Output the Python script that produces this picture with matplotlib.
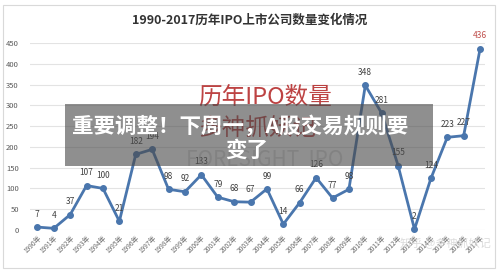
import matplotlib.pyplot as plt
from matplotlib.patches import Rectangle

plt.rcParams['font.family'] = ['Noto Sans CJK SC', 'DejaVu Sans']

# 数据
years = list(range(1990, 2018))
ipo = [7, 4, 37, 107, 100, 21, 182, 194, 98, 92, 133, 79, 68, 67, 99,
       14, 66, 126, 77, 98, 348, 281, 155, 2, 124, 223, 227, 436]
xlabels = [f"{y}年" for y in years]

W, H = 500, 271
fig = plt.figure(figsize=(5, 2.71), dpi=100)
fig.patch.set_facecolor('white')

# 外框
fig.patches.append(Rectangle((3 / W, 1 - 268 / H), 492 / W, 263 / H,
                             transform=fig.transFigure, fill=False,
                             edgecolor='#d9d9d9', linewidth=0.8))

ax = fig.add_axes([30 / W, 1 - 230 / H, 455 / W, 187 / H])
x = list(range(len(years)))
line_c = '#4a76ad'
ax.plot(x, ipo, color=line_c, linewidth=2, marker='o', markersize=4,
        clip_on=False, zorder=3)

for i, v in zip(x, ipo):
    col = '#c0504d' if i == len(x) - 1 else '#404040'
    ax.annotate(str(v), (i, v), xytext=(0, 6), textcoords='offset points',
                ha='center', va='bottom', fontsize=6, color=col)

ax.set_xlim(-0.45, 27.3)
ax.set_ylim(0, 450)
ax.set_yticks(range(0, 451, 50))
ax.tick_params(axis='y', length=0, labelsize=5.5, labelcolor='#595959', pad=8)
ax.set_xticks(x)
ax.set_xticklabels(xlabels, rotation=45, ha='right', rotation_mode='anchor',
                   fontsize=4.8, color='#6a6a6a')
ax.tick_params(axis='x', length=0, pad=3)
ax.grid(axis='y', color='#e3e3e3', linewidth=0.8)
ax.set_axisbelow(True)
for s in ax.spines.values():
    s.set_visible(False)

fig.text(250 / W, 1 - 20 / H, '1990-2017历年IPO上市公司数量变化情况',
         ha='center', va='center', fontsize=9, fontweight='bold', color='#333333')

# 水印
fig.text(198 / W, 1 - 97 / H, '历年IPO数量', ha='left', va='center',
         fontsize=17, color='#b22222', alpha=0.85, zorder=5)
fig.text(198 / W, 1 - 128 / H, '多神抓妖记', ha='left', va='center',
         fontsize=17, color='#b22222', alpha=0.85, zorder=5)
fig.text(265 / W, 1 - 160 / H, 'FORESIGHT  IPO', ha='center', va='center',
         fontsize=15, color='#c8c8c8', alpha=0.6, zorder=5)
fig.text(445 / W, 1 - 243 / H, '知乎 @多神抓妖记', ha='center', va='center',
         fontsize=8, color='#cccccc', alpha=0.7, zorder=5)

# 横幅
fig.patches.append(Rectangle((65 / W, 1 - 166 / H), 368 / W, 62 / H,
                             transform=fig.transFigure, facecolor='#4a4a4a',
                             alpha=0.62, edgecolor='none', zorder=8))
fig.text(240 / W, 1 - 126 / H, '重要调整！下周一，A股交易规则要', ha='center',
         va='center', fontsize=15.5, fontweight='bold', color='white', zorder=9)
fig.text(247 / W, 1 - 150 / H, '变了', ha='center', va='center',
         fontsize=15.5, fontweight='bold', color='white', zorder=9)

fig.savefig('out.png', dpi=100)
